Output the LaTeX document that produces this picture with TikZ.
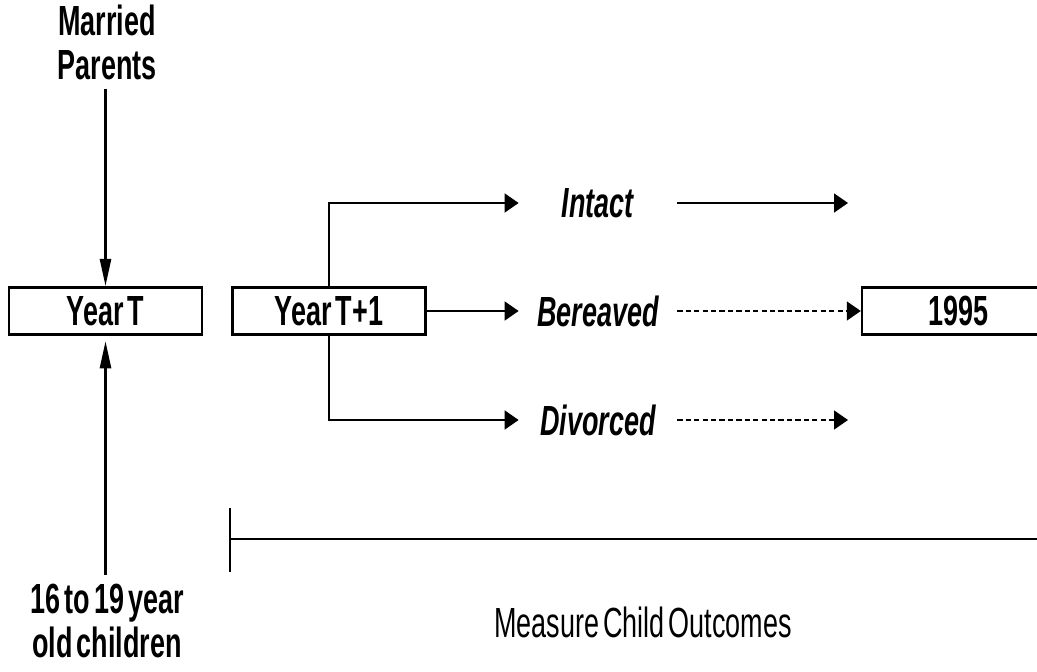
\documentclass[tikz,border=0pt]{standalone}
\usepackage{fontspec}
\setmainfont{Liberation Sans}[FakeStretch=0.64,WordSpace=0.55]
\usetikzlibrary{positioning,arrows.meta}

\begin{document}
\begin{tikzpicture}[x=0.02cm,y=-0.02cm,
    every node/.style={font=\fontsize{24}{25}\selectfont},
    year/.style={draw,line width=1.4pt,minimum width=3.86cm,minimum height=0.94cm,inner sep=0pt,font=\fontsize{24}{25}\selectfont\bfseries},
    group/.style={align=center,inner sep=5pt,font=\fontsize{24}{25}\selectfont\bfseries},
    status/.style={minimum width=3.16cm,inner xsep=0pt,font=\fontsize{24}{25}\selectfont\bfseries\itshape},
    feed/.style={line width=1.6pt,-{Triangle[length=0.55cm,width=0.22cm]}},
    branch/.style={line width=1pt,-{Triangle[length=0.28cm,width=0.38cm]}},
    followup/.style={line width=0.8pt,dash pattern=on 3pt off 1.8pt,-{Triangle[length=0.28cm,width=0.38cm]}},
    span/.style={line width=1.4pt}
    ]

  \useasboundingbox (0,0) rectangle (1037,672);

  \node(married) [group] at (107,42) {Married\\Parents};
  \node(yearT) [year] at (105.5,311) {Year T};
  \node(yearT1) [year,right=0.56cm of yearT] {Year T+1};
  \node(children) [group] at (107,621) {16 to 19 year\\old children};
  \node(box1995) [year] at (958.5,311) {1995};

  \node(bereaved) [status,right=1.84cm of yearT1] {Bereaved};
  \node(intact) [status] at (bereaved |- 0,203) {Intact};
  \node(divorced) [status] at (bereaved |- 0,420) {Divorced};

  \coordinate(intactEnd) at (intact -| 848,0);
  \coordinate(divorcedEnd) at (divorced -| 848,0);

  \draw[feed] (married.south -| yearT.north) -- (yearT);
  \draw[feed,shorten >=3pt] (children.north -| yearT.south) -- (yearT);

  \draw[branch] (yearT1.north) |- (intact);
  \draw[branch] (yearT1) -- (bereaved);
  \draw[branch] (yearT1.south) |- (divorced);

  \draw[branch] (intact) -- (intactEnd);
  \draw[followup] (bereaved) -- (box1995);
  \draw[followup] (divorced) -- (divorcedEnd);

  % follow-up period
  \coordinate(spanTop) at (230,508);
  \coordinate(spanBottom) at (230,572);
  \coordinate(spanMid) at (230,539);
  \draw[span] (spanTop) -- (spanBottom);
  \draw[span] (spanMid) -- (spanMid -| 1045,0);

  \node(outcomes) at (643,622) {Measure Child Outcomes};

\end{tikzpicture}
\end{document}
